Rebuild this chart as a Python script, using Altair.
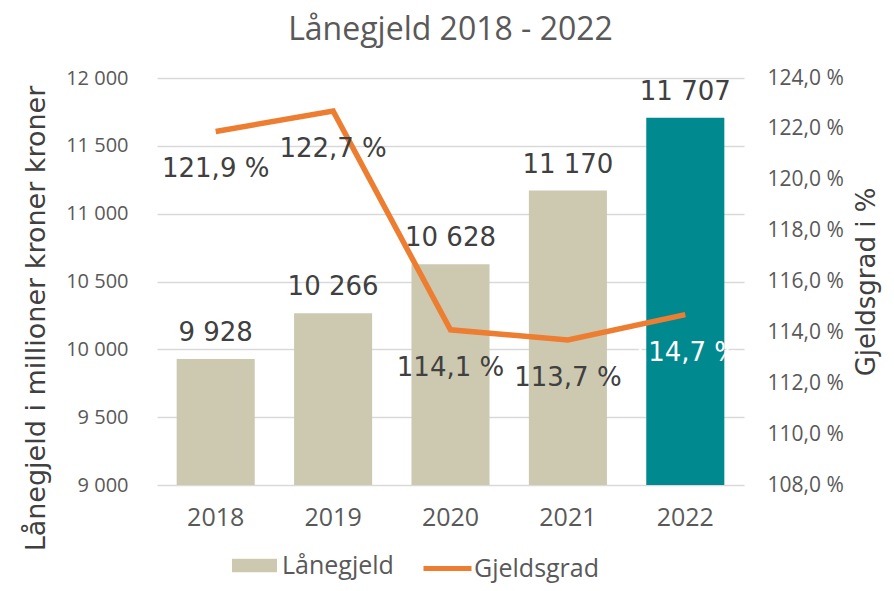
import altair as alt
import pandas as pd

years = ["2018", "2019", "2020", "2021", "2022"]
laanegjeld = [9928, 10266, 10628, 11170, 11707]
gjeldsgrad = [121.9, 122.7, 114.1, 113.7, 114.7]

left_ticks = [9000, 9500, 10000, 10500, 11000, 11500, 12000]
right_ticks = [108, 110, 112, 114, 116, 118, 120, 122, 124]

BEIGE = "#CDC9B1"
TEAL = "#00898E"
ORANGE = "#ED7D31"
DARK = "#404040"
AXIS_TXT = "#595959"
GRID = "#D9D9D9"

df = pd.DataFrame({
    "year": years,
    "laan": laanegjeld,
    "grad": gjeldsgrad,
})
df["laan_label"] = [f"{v:,}".replace(",", " ") for v in laanegjeld]
df["grad_label"] = [f"{v:.1f}".replace(".", ",") + " %" for v in gjeldsgrad]
df["serie_bar"] = "Lånegjeld"
df["serie_line"] = "Gjeldsgrad"

base = alt.Chart(df).encode(
    x=alt.X("year:O", title=None, sort=years,
            scale=alt.Scale(paddingInner=0.335, paddingOuter=0.1675),
            axis=alt.Axis(labelAngle=0, labelFontSize=25, labelColor=AXIS_TXT,
                          labelFont="Open Sans", labelPadding=20, ticks=False,
                          domain=False, grid=False))
)

y_left = alt.Y("laan:Q", title="Lånegjeld i millioner kroner kroner",
               scale=alt.Scale(domain=[9000, 12000], nice=False, zero=False),
               axis=alt.Axis(values=left_ticks, orient="left",
                             labelExpr="replace(format(datum.value, ',.0f'), ',', ' ')",
                             labelFontSize=20, labelColor=AXIS_TXT, labelFont="Open Sans",
                             labelPadding=29, ticks=False, domain=False,
                             grid=True, gridColor=GRID, gridWidth=1.5,
                             titleFontSize=27, titleColor=DARK, titleFont="DejaVu Sans",
                             titleFontWeight="normal", titlePadding=15, titleY=240))

bars = base.mark_bar().encode(
    y=y_left,
    y2=alt.Y2(datum=9000),
    fill=alt.condition(
        alt.datum.year == "2022",
        alt.value(TEAL),
        alt.Fill("serie_bar:N",
                 scale=alt.Scale(domain=["Lånegjeld"], range=[BEIGE]),
                 legend=alt.Legend(title=None, orient="none", legendX=75, legendY=465,
                                   symbolType="M-1,-0.3H1V0.3H-1Z", symbolSize=2025,
                                   symbolStrokeWidth=0, labelFontSize=25,
                                   labelColor=AXIS_TXT, labelFont="Open Sans",
                                   labelOffset=5)),
    ),
)

bar_text = base.mark_text(baseline="alphabetic", dy=-18, fontSize=26,
                          font="DejaVu Sans", color=DARK).encode(
    y=y_left,
    text="laan_label:N",
)

left_layer = alt.layer(bars, bar_text)

y_right = alt.Y("grad:Q", title="Gjeldsgrad i %",
                scale=alt.Scale(domain=[108, 124], nice=False, zero=False),
                axis=alt.Axis(values=right_ticks, orient="right",
                              labelExpr="replace(format(datum.value, '.1f'), '.', ',') + ' %'",
                              labelFontSize=21, labelColor=AXIS_TXT, labelFont="Open Sans",
                              labelPadding=23, ticks=False, domain=False, grid=False,
                              titleFontSize=26, titleColor=DARK, titleFont="DejaVu Sans",
                              titleFontWeight="normal", titlePadding=10,
                              titleAngle=270, titleBaseline="top"))

line = base.mark_line(strokeWidth=5.5).encode(
    y=y_right,
    stroke=alt.Stroke("serie_line:N",
                      scale=alt.Scale(domain=["Gjeldsgrad"], range=[ORANGE]),
                      legend=alt.Legend(title=None, orient="none", legendX=264, legendY=464,
                                        symbolType="stroke", symbolSize=2304,
                                        symbolStrokeWidth=5, labelFontSize=25,
                                        labelColor=AXIS_TXT, labelFont="Open Sans",
                                        labelOffset=0)),
)

line_text = base.mark_text(baseline="alphabetic", dy=46, fontSize=26,
                           font="DejaVu Sans").encode(
    y=y_right,
    text="grad_label:N",
    color=alt.condition(alt.datum.year == "2022", alt.value("#FFFFFF"), alt.value(DARK)),
)

right_layer = alt.layer(line, line_text)

chart = alt.layer(left_layer, right_layer).resolve_scale(
    y="independent"
).properties(
    width=587,
    height=407,
    title=alt.TitleParams("Lånegjeld 2018 - 2022", fontSize=32, font="Open Sans",
                          fontWeight="normal", color=AXIS_TXT, offset=20,
                          anchor="middle", frame="group"),
    autosize=alt.AutoSizeParams(type="none"),
    padding={"left": 149, "top": 70, "right": 138, "bottom": 98},
).configure_view(stroke=None)

chart.save("out.html", embed_options={"renderer": "svg", "actions": False})
